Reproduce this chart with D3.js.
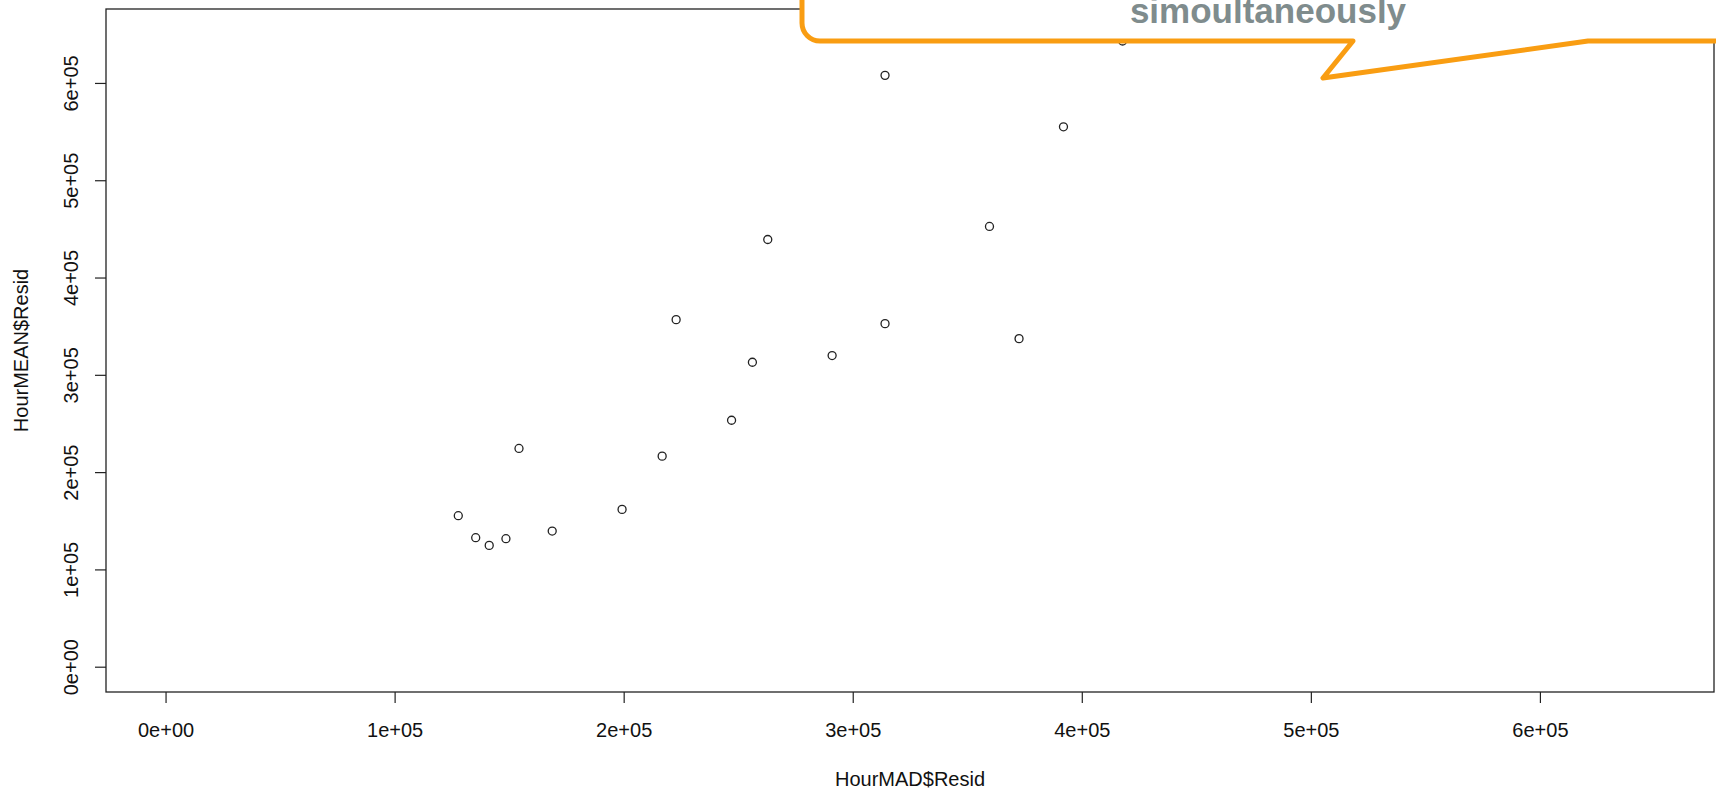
<!DOCTYPE html>
<html>
<head>
<meta charset="utf-8">
<script src="https://cdn.jsdelivr.net/npm/d3@7"></script>
<style>
  html, body { margin: 0; padding: 0; background: #fff; overflow: hidden; }
  text { font-family: "Liberation Sans", Arial, sans-serif; }
</style>
</head>
<body>
<div id="container"></div>
<script>
// HourMAD$Resid (x) vs HourMEAN$Resid (y)
const madResid = [127800, 135400, 141300, 148600, 154300, 168800, 199300, 216800, 222900, 247100, 256200, 262900, 291000, 314100, 314100, 359700, 372600, 392000, 417800];
const meanResid = [155200, 132600, 124700, 131600, 224300, 139400, 161700, 216400, 356700, 253300, 312900, 439100, 319800, 607800, 352600, 452500, 337200, 554900, 643100];

const xTicks = [0, 100000, 200000, 300000, 400000, 500000, 600000];
const yTicks = [0, 100000, 200000, 300000, 400000, 500000, 600000];
const axisLimits = [-26000, 676000];

const xLabel = "HourMAD$Resid";
const yLabel = "HourMEAN$Resid";
const calloutText = "simoultaneously";

function drawChart() {
  const W = 1716, H = 791;
  const plot = { left: 106, right: 1714, top: 9, bottom: 692 };

  const svg = d3.select("#container")
    .append("svg")
    .attr("width", W)
    .attr("height", H);

  const x = d3.scaleLinear().domain(axisLimits).range([plot.left, plot.right]);
  const y = d3.scaleLinear().domain(axisLimits).range([plot.bottom, plot.top]);

  const fmt = v => {
    if (v === 0) return "0e+00";
    const e = Math.floor(Math.log10(Math.abs(v)));
    const m = v / Math.pow(10, e);
    return `${m}e+${String(e).padStart(2, "0")}`;
  };

  // x axis
  svg.append("g")
    .attr("transform", `translate(0,${plot.bottom})`)
    .call(d3.axisBottom(x).tickValues(xTicks).tickFormat(fmt).tickSize(11).tickPadding(0))
    .call(g => g.select(".domain").remove())
    .call(g => g.selectAll("line").attr("stroke", "#222").attr("stroke-width", 1.2))
    .call(g => g.selectAll("text")
      .attr("dy", null)
      .attr("y", 45)
      .attr("fill", "#111")
      .style("font-size", "20px"));

  // y axis, labels rotated as in R
  svg.append("g")
    .attr("transform", `translate(${plot.left},0)`)
    .call(d3.axisLeft(y).tickValues(yTicks).tickFormat(fmt).tickSize(11).tickPadding(0))
    .call(g => g.select(".domain").remove())
    .call(g => g.selectAll("line").attr("stroke", "#222").attr("stroke-width", 1.2))
    .call(g => g.selectAll("text")
      .attr("x", null)
      .attr("dy", null)
      .attr("text-anchor", "middle")
      .attr("transform", "translate(-28.5,0) rotate(-90)")
      .attr("fill", "#111")
      .style("font-size", "20px"));

  // plot box
  svg.append("rect")
    .attr("x", plot.left)
    .attr("y", plot.top)
    .attr("width", plot.right - plot.left)
    .attr("height", plot.bottom - plot.top)
    .attr("fill", "none")
    .attr("stroke", "#222")
    .attr("stroke-width", 1.3);

  // points
  const pts = madResid.map((v, i) => ({ x: v, y: meanResid[i] }));
  svg.append("g")
    .selectAll("circle")
    .data(pts)
    .join("circle")
    .attr("cx", d => x(d.x))
    .attr("cy", d => y(d.y))
    .attr("r", 4)
    .attr("fill", "none")
    .attr("stroke", "#222")
    .attr("stroke-width", 1.3);

  // axis titles
  svg.append("text")
    .attr("x", (plot.left + plot.right) / 2)
    .attr("y", 786)
    .attr("text-anchor", "middle")
    .attr("fill", "#111")
    .style("font-size", "20px")
    .text(xLabel);

  svg.append("text")
    .attr("transform", `translate(28,${(plot.top + plot.bottom) / 2}) rotate(-90)`)
    .attr("text-anchor", "middle")
    .attr("fill", "#111")
    .style("font-size", "20px")
    .text(yLabel);

  // speech-bubble callout, cut off by the top of the page
  const c = { left: 802, bottom: 41, r: 18, tailA: 1353, tipX: 1323, tipY: 78, tailB: 1588 };
  const bubble = d3.path();
  bubble.moveTo(c.left, -30);
  bubble.lineTo(c.left, c.bottom - c.r);
  bubble.arcTo(c.left, c.bottom, c.left + c.r, c.bottom, c.r);
  bubble.lineTo(c.tailA, c.bottom);
  bubble.lineTo(c.tipX, c.tipY);
  bubble.lineTo(c.tailB, c.bottom);
  bubble.lineTo(W + 40, c.bottom);
  bubble.lineTo(W + 40, -30);
  bubble.closePath();

  svg.append("path")
    .attr("d", bubble.toString())
    .attr("fill", "#fff")
    .attr("stroke", "#f99d12")
    .attr("stroke-width", 5)
    .attr("stroke-linejoin", "round");

  svg.append("text")
    .attr("x", 1268)
    .attr("y", 23)
    .attr("text-anchor", "middle")
    .attr("fill", "#7f8c8d")
    .style("font-size", "35px")
    .style("font-weight", "bold")
    .text(calloutText);
}

drawChart();
</script>
</body>
</html>
